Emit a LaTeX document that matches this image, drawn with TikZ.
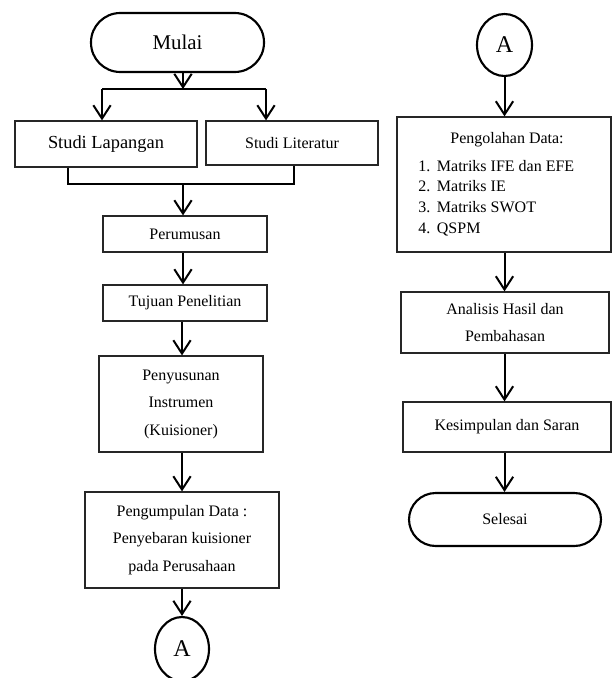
\documentclass[tikz,border=0pt]{standalone}
\usepackage{fontspec}
\setmainfont{Liberation Serif}
\usepackage{tikz}
\usetikzlibrary{arrows.meta, shapes.geometric}
\tikzset{
    box/.style={draw=black!85, line width=0.9pt, rectangle, inner sep=0pt, align=center,
        font=\fontsize{12}{20.6}\selectfont},
    term/.style={draw=black, line width=1.6pt, rectangle, rounded corners=20pt, inner sep=0pt},
    konektor/.style={draw=black, line width=1.6pt, ellipse, inner sep=0pt,
        font=\fontsize{18}{20}\selectfont},
    conn/.style={line width=1.5pt},
    arr/.style={conn, -{Straight Barb[length=10pt, width=13pt]}}
}

\begin{document}
\begin{tikzpicture}[x=0.75pt, y=-0.75pt]
    \useasboundingbox (0,0) rectangle (613,678);

    % kolom kiri
    \node[term, minimum width=129.75pt, minimum height=44.25pt, rounded corners=22pt,
        font=\fontsize{15.7}{18}\selectfont] (mulai) at (177.5,42.5) {Mulai};
    \node[box, minimum width=136.5pt, minimum height=34.5pt,
        font=\fontsize{13.8}{16}\selectfont] (lapangan) at (106,144) {Studi Lapangan};
    \node[box, minimum width=129pt, minimum height=33pt] (literatur) at (292,143) {Studi Literatur};
    \node[box, minimum width=123pt, minimum height=27pt] (perumusan) at (185,234) {Perumusan};
    \node[box, minimum width=123pt, minimum height=27pt] (tujuan) at (185,303) {Tujuan Penelitian};
    \node[box, minimum width=123pt, minimum height=72pt] (penyusunan) at (181,404)
        {Penyusunan\\Instrumen\\(Kuisioner)};
    \node[box, minimum width=145.5pt, minimum height=72pt] (pengumpulan) at (182,540)
        {Pengumpulan Data :\\Penyebaran kuisioner\\pada Perusahaan};
    \node[konektor, minimum width=40.5pt, minimum height=48pt] (akiri) at (182,649) {A};

    % kolom kanan
    \node[konektor, minimum width=41.25pt, minimum height=46.5pt] (akanan) at (504.5,45) {A};
    \node[box, minimum width=160.5pt, minimum height=101.25pt] (pengolahan) at (504,184.5) {};
    \node[font=\fontsize{12}{14}\selectfont, inner sep=0pt] (olahjudul) at (507,140) {Pengolahan Data:};
    \node[font=\fontsize{12}{15.5}\selectfont, align=left, inner sep=0pt, anchor=west] (olahlist) at (418,198)
        {1.\hspace{5pt}Matriks IFE dan EFE\\2.\hspace{5pt}Matriks IE\\3.\hspace{5pt}Matriks SWOT\\4.\hspace{5pt}QSPM};
    \node[box, minimum width=156pt, minimum height=45.75pt] (analisis) at (505,322.5)
        {Analisis Hasil dan\\Pembahasan};
    \node[box, minimum width=156pt, minimum height=37.5pt] (kesimpulan) at (507,427) {Kesimpulan dan Saran};
    \node[term, minimum width=144pt, minimum height=39.75pt, font=\fontsize{12}{14}\selectfont]
        (selesai) at (505,519.5) {Selesai};

    % percabangan dari mulai
    \coordinate (pisah) at (183,89);
    \coordinate (pisahL) at (102,89);
    \coordinate (pisahR) at (266,89);
    \draw[arr] (pisah |- mulai.south) -- (pisah);
    \draw[conn] (pisahL) -- (pisahR);
    \draw[arr] (pisahL) -- (pisahL |- lapangan.north);
    \draw[arr] (pisahR) -- (pisahR |- literatur.north);

    % gabungan studi
    \coordinate (gabungL) at (68,184);
    \coordinate (gabungR) at (294,184);
    \coordinate (gabung) at (183,184);
    \draw[conn] (gabungL |- lapangan.south) -- (gabungL) -- (gabungR) -- (gabungR |- literatur.south);
    \draw[arr] (gabung) -- (gabung |- perumusan.north);

    \draw[arr] (perumusan.south -| gabung) -- (gabung |- tujuan.north);
    \draw[arr] (tujuan.south -| akiri) -- (akiri |- penyusunan.north);
    \draw[arr] (penyusunan.south -| akiri) -- (akiri |- pengumpulan.north);
    \draw[arr] (pengumpulan.south -| akiri) -- (akiri.north);

    \draw[arr] (akanan.south) -- (akanan.south |- pengolahan.north);
    \draw[arr] (pengolahan.south -| akanan) -- (akanan |- analisis.north);
    \draw[arr] (analisis.south -| akanan) -- (akanan |- kesimpulan.north);
    \draw[arr] (kesimpulan.south -| akanan) -- (akanan |- selesai.north);
\end{tikzpicture}
\end{document}
